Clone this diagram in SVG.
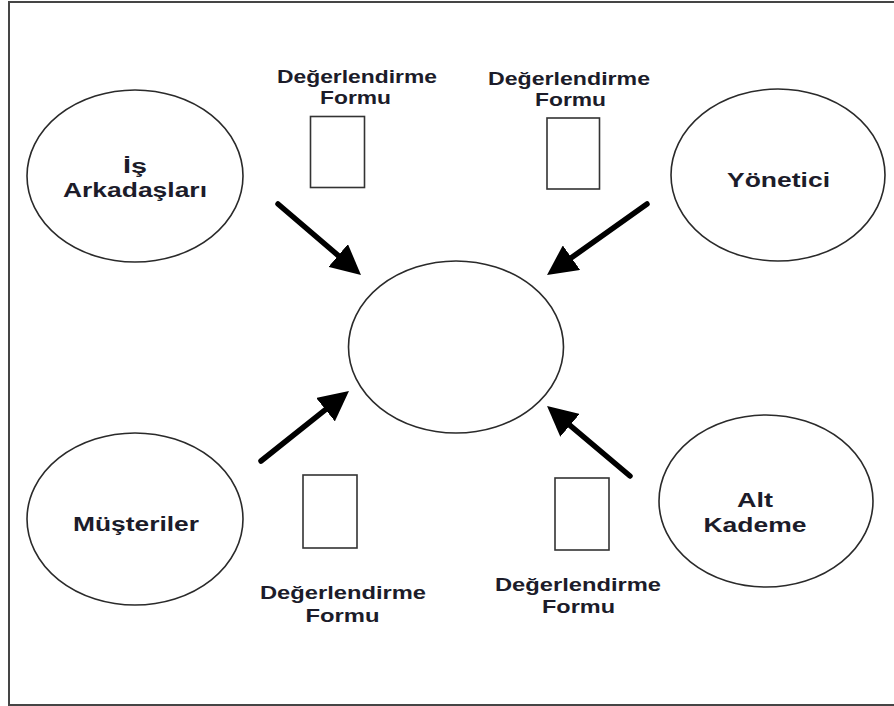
<svg xmlns="http://www.w3.org/2000/svg" width="894" height="706" viewBox="0 0 894 706">
  <style>
    .frame { stroke: #454545; stroke-width: 2; fill: none; }
    .node { fill: #ffffff; stroke: #2a2a2a; stroke-width: 1.6; }
    .form { fill: #ffffff; stroke: #333333; stroke-width: 1.6; }
    .lbl { font-family: "Liberation Sans", Arial, sans-serif; font-weight: bold; font-size: 20px; fill: #1c1c2a; text-anchor: middle; }
    .flbl { font-family: "Liberation Sans", Arial, sans-serif; font-weight: bold; font-size: 18px; fill: #1c1c2a; text-anchor: middle; }
    .flbl-b { font-size: 19px; }
    .conn { stroke: #000000; stroke-width: 5.5; stroke-linecap: round; fill: none; marker-end: url(#head); }
  </style>
  <defs>
    <marker id="head" markerUnits="userSpaceOnUse" viewBox="0 0 30 30" markerWidth="30" markerHeight="30" refX="12" refY="15" orient="auto">
      <path d="M0,0 L30,15 L0,30 Z" fill="#000000"/>
    </marker>
  </defs>

  <rect width="894" height="706" fill="#ffffff"/>

  <!-- outer frame (open on the right edge) -->
  <path class="frame" d="M894,2 H9 V705 H894"/>

  <!-- arrows pointing to the centre -->
  <g id="connectors">
    <line class="conn" x1="278" y1="204" x2="347.3" y2="263.3"/>
    <line class="conn" x1="647" y1="204" x2="561.7" y2="264.6"/>
    <line class="conn" x1="261" y1="461" x2="334.9" y2="402.2"/>
    <line class="conn" x1="630" y1="476" x2="560.8" y2="417.6"/>
  </g>

  <g id="center">
    <ellipse class="node" cx="456" cy="347" rx="107.5" ry="86"/>
  </g>

  <g id="is-arkadaslari">
    <ellipse class="node" cx="135" cy="176" rx="108" ry="86"/>
    <text class="lbl" x="135" y="173" textLength="24" lengthAdjust="spacingAndGlyphs">İş</text>
    <text class="lbl" x="135" y="197" textLength="144" lengthAdjust="spacingAndGlyphs">Arkadaşları</text>
  </g>

  <g id="yonetici">
    <ellipse class="node" cx="778" cy="175" rx="107" ry="86"/>
    <text class="lbl" x="778.5" y="187" textLength="103" lengthAdjust="spacingAndGlyphs">Yönetici</text>
  </g>

  <g id="musteriler">
    <ellipse class="node" cx="135" cy="519" rx="108" ry="86"/>
    <text class="lbl" x="136" y="531" textLength="126" lengthAdjust="spacingAndGlyphs">Müşteriler</text>
  </g>

  <g id="alt-kademe">
    <ellipse class="node" cx="766" cy="501" rx="107" ry="86"/>
    <text class="lbl" x="755" y="507" textLength="36" lengthAdjust="spacingAndGlyphs">Alt</text>
    <text class="lbl" x="755" y="532" textLength="103" lengthAdjust="spacingAndGlyphs">Kademe</text>
  </g>

  <g id="form-top-left">
    <text class="flbl" x="357" y="83" textLength="160" lengthAdjust="spacingAndGlyphs">Değerlendirme</text>
    <text class="flbl" x="355.5" y="103.5" textLength="71" lengthAdjust="spacingAndGlyphs">Formu</text>
    <rect class="form" x="310.5" y="116.5" width="54" height="71"/>
  </g>

  <g id="form-top-right">
    <text class="flbl" x="569" y="85" textLength="162" lengthAdjust="spacingAndGlyphs">Değerlendirme</text>
    <text class="flbl" x="570.5" y="105.5" textLength="71" lengthAdjust="spacingAndGlyphs">Formu</text>
    <rect class="form" x="547" y="118" width="52.5" height="71"/>
  </g>

  <g id="form-bottom-left">
    <rect class="form" x="303" y="475" width="54" height="73"/>
    <text class="flbl flbl-b" x="343" y="599" textLength="166" lengthAdjust="spacingAndGlyphs">Değerlendirme</text>
    <text class="flbl flbl-b" x="342.5" y="622" textLength="74" lengthAdjust="spacingAndGlyphs">Formu</text>
  </g>

  <g id="form-bottom-right">
    <rect class="form" x="555" y="478" width="54" height="72"/>
    <text class="flbl flbl-b" x="578" y="590.5" textLength="166" lengthAdjust="spacingAndGlyphs">Değerlendirme</text>
    <text class="flbl flbl-b" x="578.5" y="613" textLength="73" lengthAdjust="spacingAndGlyphs">Formu</text>
  </g>
</svg>
